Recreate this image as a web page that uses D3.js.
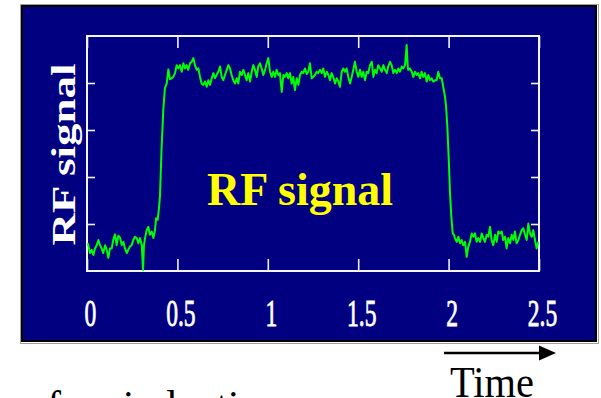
<!DOCTYPE html>
<html>
<head>
<meta charset="utf-8">
<script src="https://cdn.jsdelivr.net/npm/d3@7"></script>
<style>
  html, body { margin: 0; padding: 0; background: #fff; overflow: hidden; }
</style>
</head>
<body>
<svg id="chart" width="601" height="398"></svg>
<script>
// axis ticks
const xTicks = [0, 0.5, 1, 1.5, 2, 2.5];
const xTickLabels = ['0', '0.5', '1', '1.5', '2', '2.5'];
const yTicks = [1, 2, 3, 4];

// RF signal trace (time, level)
const times = [
  0.004, 0.007, 0.017, 0.026, 0.035, 0.044, 0.054, 0.063, 0.072, 0.081, 0.090, 0.100, 0.109, 0.118, 0.127,
  0.137, 0.145, 0.155, 0.164, 0.173, 0.183, 0.192, 0.201, 0.210, 0.220, 0.228, 0.238, 0.247, 0.256, 0.265,
  0.275, 0.284, 0.293, 0.303, 0.310, 0.315, 0.321, 0.330, 0.339, 0.348, 0.358, 0.367, 0.376, 0.382, 0.391,
  0.398, 0.404, 0.412, 0.422, 0.431, 0.441,
  0.450, 0.459, 0.468, 0.477, 0.487, 0.496, 0.505, 0.514, 0.524, 0.533, 0.542, 0.551, 0.560, 0.570, 0.579,
  0.588, 0.597, 0.607, 0.616, 0.625, 0.634, 0.643, 0.653, 0.662, 0.671, 0.680, 0.690, 0.699, 0.708, 0.717,
  0.726, 0.736, 0.745, 0.754, 0.763, 0.773, 0.782, 0.791, 0.800, 0.809, 0.819, 0.828, 0.837, 0.846, 0.856,
  0.865, 0.874, 0.883, 0.892, 0.902, 0.911, 0.920, 0.929, 0.939, 0.947, 0.957, 0.966, 0.975, 0.985, 0.994,
  1.003, 1.012, 1.022, 1.030, 1.040, 1.049, 1.058, 1.067, 1.077, 1.086, 1.095, 1.105, 1.113, 1.123, 1.132,
  1.141, 1.150, 1.160, 1.169, 1.178, 1.188, 1.196, 1.206, 1.215, 1.224, 1.233, 1.243, 1.252, 1.261, 1.270,
  1.279, 1.289, 1.298, 1.307, 1.316, 1.326, 1.335, 1.344, 1.353, 1.362, 1.372, 1.381, 1.390, 1.399, 1.409,
  1.418, 1.427, 1.436, 1.445, 1.455, 1.464, 1.473, 1.482, 1.492, 1.501, 1.510, 1.519, 1.528, 1.538, 1.547,
  1.556, 1.565, 1.575, 1.584, 1.593, 1.602, 1.611, 1.621, 1.630, 1.639, 1.648, 1.658, 1.666, 1.676, 1.685,
  1.694, 1.704, 1.713, 1.722, 1.731, 1.741, 1.749, 1.759, 1.768, 1.774, 1.777, 1.786, 1.796, 1.805, 1.814,
  1.824, 1.832, 1.842, 1.851, 1.860, 1.869, 1.879, 1.888, 1.897, 1.906, 1.915, 1.925, 1.934, 1.943, 1.952,
  1.962, 1.967, 1.980, 1.986, 1.993, 2.001, 2.008, 2.015, 2.023, 2.030,
  2.035, 2.045, 2.054, 2.063, 2.072, 2.081, 2.091, 2.100, 2.109, 2.118, 2.128, 2.137, 2.146, 2.155, 2.164,
  2.174, 2.183, 2.192, 2.201, 2.211, 2.220, 2.229, 2.238, 2.247, 2.257, 2.266, 2.275, 2.284, 2.294, 2.302,
  2.312, 2.321, 2.330, 2.340, 2.349, 2.358, 2.367, 2.376, 2.386, 2.395, 2.404, 2.413, 2.423, 2.432, 2.441,
  2.450, 2.460, 2.468, 2.478, 2.487, 2.496
];
const rfSignal = [
  0.59, 0.55, 0.38, 0.45, 0.34, 0.48, 0.55, 0.66, 0.55, 0.48, 0.38, 0.55, 0.45, 0.28, 0.48,
  0.48, 0.66, 0.78, 0.55, 0.75, 0.71, 0.55, 0.62, 0.48, 0.38, 0.45, 0.52, 0.55, 0.66, 0.73,
  0.70, 0.59, 0.70, 0.55, 0.02, 0.55, 0.70, 0.87, 0.94, 0.77, 0.84, 0.70, 0.87, 1.12, 1.09,
  1.33, 1.62, 2.57, 3.43, 3.89, 3.99,
  4.29, 4.08, 4.10, 4.13, 4.21, 4.38, 4.31, 4.38, 4.24, 4.42, 4.31, 4.38, 4.28, 4.42, 4.45,
  4.53, 4.38, 4.28, 4.31, 4.13, 3.99, 3.96, 4.03, 3.92, 4.06, 3.96, 4.10, 4.21, 4.10, 4.17,
  4.24, 4.35, 4.13, 4.06, 4.17, 4.28, 4.38, 4.31, 4.17, 4.06, 3.99, 4.10, 3.99, 4.24, 4.17,
  4.28, 4.17, 4.06, 4.21, 4.03, 4.24, 4.38, 4.28, 4.13, 4.35, 4.42, 4.31, 4.17, 4.28, 4.42,
  4.53, 4.24, 4.13, 4.24, 4.13, 4.28, 4.17, 4.21, 3.81, 4.17, 4.13, 4.21, 4.10, 4.21, 3.99,
  4.13, 3.85, 4.10, 3.96, 4.17, 4.24, 4.21, 4.31, 4.19, 4.24, 4.42, 4.10, 4.13, 4.17, 4.24,
  4.21, 4.28, 4.21, 4.31, 4.13, 4.24, 4.17, 4.06, 4.21, 4.13, 3.99, 4.10, 4.03, 3.92, 4.24,
  4.31, 4.24, 4.31, 4.13, 3.99, 4.13, 4.28, 4.45, 4.24, 4.13, 4.28, 4.13, 4.24, 4.06, 4.24,
  4.21, 4.38, 4.45, 4.13, 4.28, 4.21, 4.38, 4.31, 4.24, 4.38, 4.28, 4.21, 4.35, 4.45, 4.38,
  4.21, 4.28, 4.21, 4.31, 4.24, 4.35, 4.31, 4.38, 4.81, 4.35, 4.28, 4.31, 4.24, 4.13, 4.24,
  4.17, 4.21, 4.10, 4.24, 4.13, 4.21, 4.03, 4.17, 4.06, 4.10, 4.03, 4.06, 4.06, 4.24, 4.10,
  4.10, 3.99, 3.71, 3.50, 3.07, 2.36, 1.65, 1.16, 0.80, 0.77,
  0.70, 0.62, 0.73, 0.59, 0.66, 0.55, 0.62, 0.30, 0.52, 0.62, 0.80, 0.73, 0.80, 0.62, 0.70,
  0.62, 0.80, 0.70, 0.62, 0.77, 0.73, 0.94, 0.66, 0.55, 0.77, 0.62, 0.84, 0.80, 0.84, 0.66,
  0.73, 0.48, 0.70, 0.59, 0.77, 0.66, 0.84, 0.59, 0.66, 0.77, 0.87, 0.91, 0.77, 0.66, 1.01,
  0.80, 0.73, 0.87, 0.66, 0.48, 0.62
];

const serif = '"Liberation Serif", "Times New Roman", Times, serif';

const svg = d3.select('#chart');

// slide panel
svg.append('rect')
  .attr('x', 20.5).attr('y', 4.5).attr('width', 578).attr('height', 339)
  .attr('fill', 'none').attr('stroke', '#a0a0a0').attr('stroke-width', 1);
svg.append('rect')
  .attr('x', 22).attr('y', 6).attr('width', 574).attr('height', 335)
  .attr('fill', '#000080').attr('stroke', '#000').attr('stroke-width', 2);

const x = d3.scaleLinear().domain([0, 2.5]).range([87, 539]);
const y = d3.scaleLinear().domain([0, 5]).range([271, 36]);

// inward ticks on all four sides
svg.append('g').attr('transform', 'translate(0,271)')
  .call(d3.axisBottom(x).tickValues(xTicks).tickSize(-12).tickFormat(''))
  .call(g => g.select('.domain').remove());
svg.append('g').attr('transform', 'translate(0,36)')
  .call(d3.axisTop(x).tickValues(xTicks).tickSize(-12).tickFormat(''))
  .call(g => g.select('.domain').remove());
svg.append('g').attr('transform', 'translate(87,0)')
  .call(d3.axisLeft(y).tickValues(yTicks).tickSize(-8).tickFormat(''))
  .call(g => g.select('.domain').remove());
svg.append('g').attr('transform', 'translate(539,0)')
  .call(d3.axisRight(y).tickValues(yTicks).tickSize(-8).tickFormat(''))
  .call(g => g.select('.domain').remove());
svg.selectAll('.tick line').attr('stroke', '#f0f0ff').attr('stroke-width', 1.6);

// frame
svg.append('rect')
  .attr('x', x(0)).attr('y', y(5))
  .attr('width', x(2.5) - x(0)).attr('height', y(0) - y(5))
  .attr('fill', 'none').attr('stroke', '#f4f4ff').attr('stroke-width', 2);

// tick labels (narrow serif)
svg.append('g').selectAll('g')
  .data(xTicks)
  .join('g')
  .attr('transform', d => `translate(${x(d) + 3.5},326) scale(0.62,1)`)
  .append('text')
  .attr('text-anchor', 'middle')
  .attr('font-family', serif)
  .attr('font-size', 38)
  .attr('fill', '#fff')
  .attr('stroke', '#fff')
  .attr('stroke-width', 0.9)
  .text((d, i) => xTickLabels[i]);

// trace
const line = d3.line().x((d, i) => x(times[i])).y(d => y(d));
svg.append('path')
  .datum(rfSignal)
  .attr('d', line)
  .attr('fill', 'none')
  .attr('stroke', '#00ff00')
  .attr('stroke-width', 2)
  .attr('stroke-linejoin', 'round');

// y axis title
svg.append('g')
  .attr('transform', 'translate(75,154.5) scale(0.73,1) rotate(-90)')
  .append('text')
  .attr('text-anchor', 'middle')
  .attr('font-family', serif)
  .attr('font-weight', 'bold')
  .attr('font-size', 45)
  .attr('fill', '#fff')
  .text('RF signal');

// label in the plot
svg.append('text')
  .attr('x', 300).attr('y', 205)
  .attr('text-anchor', 'middle')
  .attr('font-family', serif)
  .attr('font-weight', 'bold')
  .attr('font-size', 46)
  .attr('fill', '#ffff00')
  .text('RF signal');

// time arrow
svg.append('line')
  .attr('x1', 444).attr('y1', 353).attr('x2', 541).attr('y2', 353)
  .attr('stroke', '#000').attr('stroke-width', 2.5);
svg.append('path')
  .attr('d', 'M539,345.5 L556,353 L539,360.5 Z')
  .attr('fill', '#000');
svg.append('g')
  .attr('transform', 'translate(492,397) scale(0.92,1)')
  .append('text')
  .attr('text-anchor', 'middle')
  .attr('font-family', serif)
  .attr('font-size', 44)
  .attr('fill', '#000')
  .text('Time');

// caption line below, mostly cut off by the page edge
svg.append('text')
  .attr('x', 47).attr('y', 420)
  .attr('font-family', serif)
  .attr('font-size', 42)
  .attr('fill', '#000')
  .text('free induction');
</script>
</body>
</html>
